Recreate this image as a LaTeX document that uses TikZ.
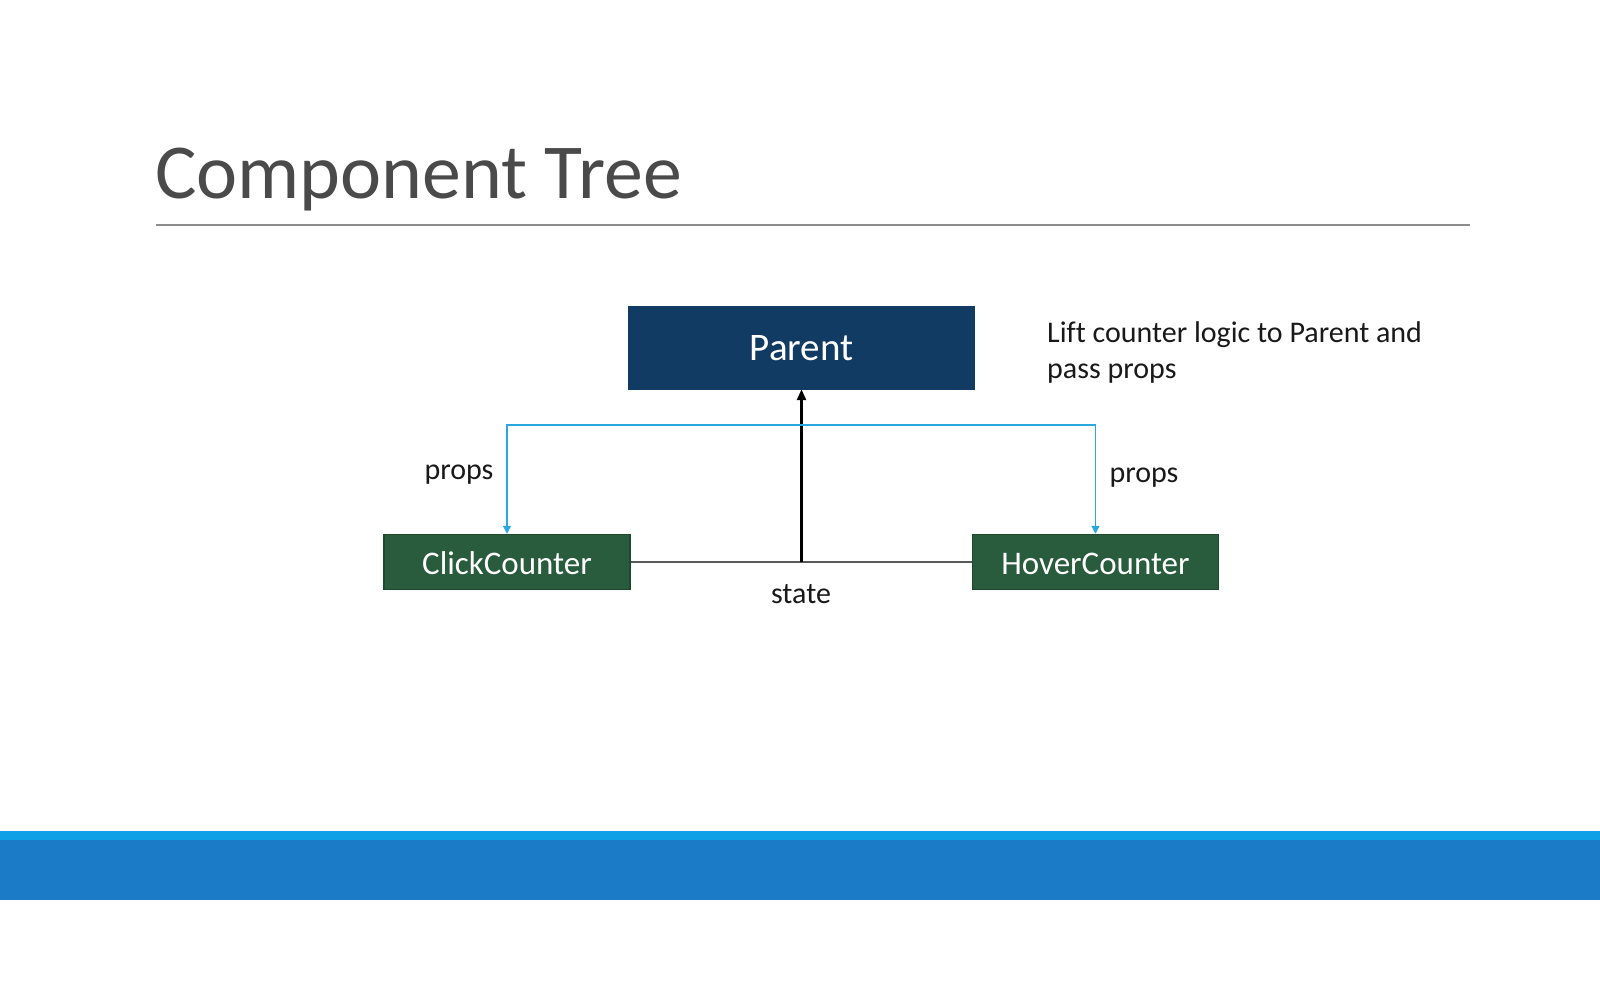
\documentclass[tikz,border=0pt]{standalone}
\usepackage{fontspec}
\setmainfont{Carlito}[Ligatures=NoCommon]
\usetikzlibrary{arrows.meta,calc}

\definecolor{titlegray}{HTML}{4A4A4A}
\definecolor{rulegray}{HTML}{8C8C8C}
\definecolor{navy}{HTML}{113B62}
\definecolor{leaf}{HTML}{285C3C}
\definecolor{leafedge}{HTML}{1D4A2E}
\definecolor{propblue}{HTML}{2AA6E0}
\definecolor{stripe}{HTML}{0FA0E6}
\definecolor{band}{HTML}{1B7BC6}
\definecolor{stategray}{HTML}{5A5A5A}

\tikzset{
  parentbox/.style={rectangle, fill=navy, draw=navy, text=white,
    minimum width=346pt, minimum height=83pt, inner sep=0pt,
    text height=26.4pt, text depth=0pt,
    font=\fontsize{39}{44}\selectfont},
  childbox/.style={rectangle, fill=leaf, draw=leafedge, line width=1.5pt, text=white,
    minimum width=246pt, minimum height=55pt, inner sep=0pt,
    text height=25pt, text depth=0pt,
    font=\fontsize{33}{38}\selectfont},
  plain/.style={inner sep=0pt, text=black!90, font=\fontsize{30}{36}\selectfont},
  propsline/.style={draw=propblue, line width=1.5pt,
    -{Triangle[length=8pt,width=8pt]}},
  liftline/.style={draw=black, line width=2.5pt,
    -{Triangle[length=11pt,width=9pt]}},
  stateline/.style={draw=stategray, line width=2pt}
}

\begin{document}
\begin{tikzpicture}[x=1pt,y=-1pt]
  \useasboundingbox[fill=white] (0,0) rectangle (1600,990);

  % heading and rule
  \node[anchor=base west, inner sep=0pt, text=titlegray,
        font=\fontsize{77.8}{82}\selectfont] (title) at (155,198) {Component Tree};
  \draw[rulegray, line width=1.5pt] (156,225) -- (1470,225);

  % footer band
  \fill[stripe] (0,831) rectangle (1600,840);
  \fill[band] (0,840) rectangle (1600,900);

  % components
  \node[parentbox] (parent) at (801.5,347.5) {Parent};
  \node[childbox] (click) at (507,562) {ClickCounter};
  \node[childbox] (hover) at (1095.5,562) {HoverCounter};

  % state shared between the children, lifted to the parent
  \draw[stateline] (click.east) -- (hover.west);
  \coordinate (join) at (parent.south |- click.east);
  \draw[liftline] (join) -- (parent.south);

  % props passed down
  \coordinate (bus) at ($(parent.south)+(0,36)$);
  \draw[propsline] (bus) -| (click.north);
  \draw[propsline] (bus) -| (hover.north);

  % labels
  \node[plain] (propsl) at (459,475) {props};
  \node[plain] (propsr) at (1144,478) {props};
  \node[plain] (state) at (801,594) {state};
  \node[plain, anchor=base west] (note1) at (1047,342) {Lift counter logic to Parent and};
  \node[plain, anchor=base west] (note2) at (1047,378) {pass props};
\end{tikzpicture}
\end{document}
